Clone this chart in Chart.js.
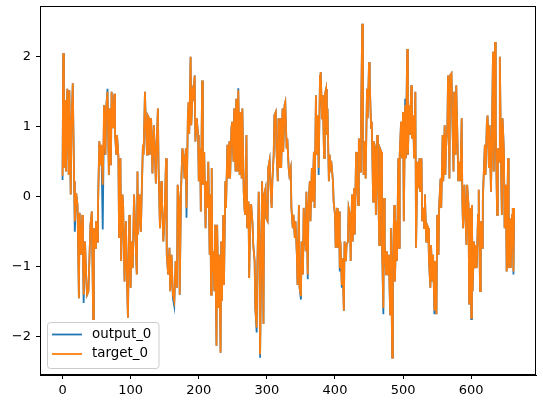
<!DOCTYPE html>
<html>
<head>
<meta charset="utf-8">
<script src="https://cdn.jsdelivr.net/npm/chart.js@4/dist/chart.umd.min.js"></script>
<style>
  html, body { margin: 0; padding: 0; background: #fff; }
  #chart { display: block; }
</style>
</head>
<body>
<canvas id="chart" width="543" height="407"></canvas>
<script>
// sample index (x)
const idx = [
  0,1,2,4,5,7,9,10,12,13,15,17,18,20,22,24,25,27,29,30,31,33,35,36,38,41,43,45,46,48,
  49,51,52,54,56,57,59,61,63,64,66,68,69,71,72,74,76,77,79,80,82,83,85,86,88,89,91,93,95,96,
  98,99,100,101,103,105,107,109,110,111,113,115,116,118,119,121,122,124,125,127,
  128,130,132,134,135,137,138,140,141,143,145,146,148,150,152,153,155,157,158,160,
  162,164,166,168,169,171,172,174,176,178,179,181,182,184,185,186,188,189,191,192,
  194,195,197,199,200,202,203,205,206,208,210,211,213,214,216,217,
  218,219,220,221,223,224,226,227,229,230,232,233,234,236,237,239,240,242,243,245,
  246,248,249,251,252,254,255,257,258,260,261,263,264,266,267,268,270,271,273,274,
  276,277,279,280,282,283,285,286,288,289,290,292,293,295,296,298,299,301,302,304,
  305,307,308,310,311,313,314,316,317,319,320,321,323,324,326,327,329,330,332,333,
  335,336,338,339,341,342,
  344,345,347,348,350,351,353,354,356,357,358,360,361,363,364,366,367,369,370,372,
  373,375,376,378,379,381,382,384,385,387,388,389,391,392,394,395,397,398,400,401,
  403,404,406,407,408,410,411,413,414,416,417,419,420,422,423,425,426,428,429,431,
  432,434,435,437,438,440,441,442,444,445,447,448,450,451,453,454,456,457,459,460,
  462,463,465,466,
  468,469,471,472,473,475,476,478,479,481,482,484,485,487,488,490,491,493,494,495,
  497,498,500,501,503,504,506,507,509,510,512,513,515,516,518,519,521,522,524,525,
  527,528,530,531,532,534,535,537,538,540,541,543,544,546,547,549,550,552,553,555,
  556,558,559,561,562,563,565,566,568,569,571,572,574,575,577,578,580,581,583,584,
  586,587,588,590,591,593,594,596,597,599,600,
  601,602,604,605,607,608,610,611,613,614,616,617,618,620,621,623,624,626,627,629,
  630,632,633,635,636,638,639,641,642,644,645,646,648,649,651,652,654,655,657,658,
  660,661,662,663
];

const target = [
  0.30,2.05,0.41,1.38,0.36,1.54,0.31,1.52,0.03,0.98,1.62,0.22,-0.35,0.05,-0.12,-1.45,-0.23,-0.83,-0.26,-0.88,-1.40,-0.64,-1.21,-1.40,-1.35,-0.40,-0.21,-1.75,-0.45,-0.73,
  -0.35,-0.64,-0.16,0.79,0.45,0.74,0.17,1.31,0.60,1.26,1.50,0.31,1.26,0.45,1.50,0.98,1.47,0.90,0.60,0.88,0.57,-0.59,0.55,-0.92,0.03,-0.14,-1.21,-0.35,-1.35,-1.73,
  -0.26,-0.59,-1.30,-0.64,-1.02,0.03,-0.59,-1.11,0.36,-0.54,0.03,-0.50,-0.05,0.74,0.60,1.50,1.12,0.60,1.16,1.12,
  0.60,1.12,0.33,1.02,0.79,0.19,0.69,1.26,0.41,-0.45,0.22,-0.07,-0.64,-0.21,0.55,-0.83,-1.11,-0.73,-1.35,-0.83,
  -1.40,-1.49,-0.92,-1.30,0.17,-0.07,-1.40,0.12,0.69,0.55,0.26,0.69,-0.16,1.16,1.35,0.90,2.00,1.02,1.50,1.45,
  1.73,0.79,1.12,0.88,0.22,0.69,-0.21,1.66,0.17,0.64,-0.45,0.22,-0.16,0.50,-0.83,0.03,
  -1.40,0.41,-1.07,-0.78,-1.35,-0.40,-2.13,-0.40,-1.59,-0.83,-2.23,-0.64,-1.49,-0.26,-1.26,0.22,-0.16,0.74,0.26,0.79,
  0.26,0.98,1.07,0.50,1.26,0.36,1.40,0.36,1.52,0.31,1.21,0.26,1.26,0.07,-0.16,-0.26,0.88,-0.45,-0.07,-1.16,
  -0.12,-0.12,-0.40,-0.69,-0.92,-1.59,-1.87,-1.02,0.07,-0.54,-2.25,-0.64,0.22,-1.82,0.03,0.12,-0.31,-0.35,0.41,0.52,
  0.22,-0.16,0.22,0.60,1.16,1.21,0.69,0.22,1.12,0.41,1.12,0.41,1.26,0.64,1.31,1.35,0.69,0.83,0.41,0.31,
  0.41,-0.16,-0.45,-0.26,-0.59,-0.35,
  -0.83,-1.26,-0.12,-1.30,-1.42,-0.64,-1.11,-0.16,-0.59,-0.78,0.07,-1.11,-0.16,0.22,-0.35,0.41,-0.07,0.64,-0.16,1.45,
  0.60,1.16,0.41,1.73,1.78,1.12,1.45,0.55,1.45,1.54,0.88,1.26,0.22,0.60,0.41,0.45,0.22,-0.07,-0.26,-0.73,
  -0.16,-0.73,-0.21,-1.02,-0.64,-1.26,-0.88,-1.63,-0.64,-0.92,-0.69,-0.64,-0.16,-0.26,-0.92,0.03,-0.64,0.12,-0.54,0.64,
  0.31,-0.12,0.83,0.36,0.88,2.47,1.02,0.31,0.79,0.26,1.54,1.12,1.92,1.64,0.98,1.07,-0.07,0.79,0.69,-0.26,
  0.88,0.41,-0.69,0.69,
  0.64,-0.64,-1.59,-0.02,-0.69,-1.11,-0.78,-1.11,-0.83,-1.68,-0.45,-2.30,-1.02,-0.12,-1.21,-0.35,-0.92,0.55,-0.73,0.60,
  1.07,0.55,1.21,-0.35,1.31,0.55,2.11,0.60,1.31,0.88,1.59,0.83,1.16,0.55,1.50,-0.73,0.50,0.12,0.55,0.07,
  0.55,-0.35,-0.16,-0.45,0.03,-0.64,-0.40,-0.45,-0.92,-1.30,-0.69,-1.21,-0.83,-1.63,-0.92,-1.68,-0.26,-0.83,-0.12,0.26,
  -0.16,0.88,0.22,1.02,0.31,0.69,1.02,1.73,0.26,1.73,1.76,1.26,0.36,1.50,0.60,1.59,0.74,0.22,0.50,0.22,
  1.12,-0.07,-0.45,0.17,-0.16,-0.69,0.17,-0.12,-1.54,-0.16,-1.73,
  -0.12,-1.35,-0.64,-1.02,-0.69,-1.02,-0.26,0.10,-1.35,-0.35,-0.73,-0.07,0.22,0.74,0.31,1.07,1.16,0.41,1.02,0.07,
  0.64,2.07,0.36,2.21,0.98,-0.26,0.69,0.50,2.00,0.31,-0.26,1.12,0.64,-0.45,0.17,-1.07,0.55,-1.02,-0.31,-1.02,
  -0.26,-0.16,-1.07,-0.16
];

const output = [
  0.24,2.05,0.41,1.38,0.36,1.54,0.31,1.52,0.03,0.98,1.62,0.22,-0.50,0.05,-0.12,-1.45,-0.23,-0.83,-0.26,-0.88,-1.52,-0.64,-1.21,-1.40,-1.35,-0.40,-0.21,-1.75,-0.45,-0.73,
  -0.35,-0.64,-0.16,0.79,0.45,0.74,-0.47,1.31,0.60,1.26,1.54,0.31,1.26,0.45,1.50,0.98,1.47,0.90,0.60,0.88,0.57,-0.59,0.55,-0.92,0.03,-0.14,-1.21,-0.35,-1.35,-1.73,
  -0.26,-0.59,-1.30,-0.64,-1.02,0.03,-0.59,-1.11,0.36,-0.54,0.03,-0.50,-0.05,0.74,0.60,1.50,1.12,0.60,1.16,1.12,
  0.60,1.12,0.33,1.02,0.79,0.19,0.69,1.26,0.41,-0.45,0.22,-0.07,-0.64,-0.21,0.55,-0.83,-1.11,-0.73,-1.35,-0.83,
  -1.45,-1.56,-0.92,-1.30,0.17,-0.07,-1.40,0.12,0.69,0.55,0.26,0.69,-0.30,1.16,1.35,0.90,2.00,1.02,1.50,1.45,
  1.73,0.79,1.12,0.88,0.22,0.69,-0.21,1.66,0.17,0.64,-0.45,0.22,-0.16,0.50,-0.83,0.03,
  -1.40,0.41,-1.07,-0.78,-1.35,-0.40,-2.13,-0.40,-1.59,-0.83,-2.23,-0.64,-1.49,-0.26,-1.26,0.22,-0.16,0.74,0.26,0.79,
  0.26,0.98,1.07,0.50,1.26,0.36,1.40,0.36,1.55,0.31,1.21,0.26,1.26,0.07,-0.16,-0.26,0.88,-0.45,-0.07,-1.16,
  -0.12,-0.12,-0.40,-0.69,-0.92,-1.59,-1.94,-1.02,0.07,-0.54,-2.30,-0.64,0.22,-1.82,0.03,0.12,-0.31,-0.35,0.41,0.52,
  0.22,-0.16,0.22,0.60,1.16,1.21,0.69,0.22,1.12,0.41,1.12,0.41,1.26,0.64,1.31,1.35,0.69,0.83,0.41,0.31,
  0.41,-0.16,-0.45,-0.26,-0.59,-0.35,
  -0.83,-1.26,-0.12,-1.30,-1.47,-0.64,-1.11,-0.16,-0.59,-0.78,0.07,-1.18,-0.16,0.22,-0.35,0.41,-0.07,0.64,-0.16,1.45,
  0.60,1.16,0.31,1.73,1.78,1.12,1.45,0.55,1.45,1.54,0.88,1.26,0.22,0.60,0.41,0.45,0.22,-0.07,-0.26,-0.73,
  -0.16,-0.73,-0.21,-1.07,-0.64,-1.30,-0.88,-1.63,-0.64,-0.92,-0.69,-0.64,-0.16,-0.26,-0.92,0.03,-0.64,0.12,-0.54,0.64,
  0.31,-0.12,0.83,0.36,0.88,2.47,1.02,0.31,0.79,0.26,1.54,1.12,1.92,1.64,0.98,1.07,-0.07,0.79,0.69,-0.26,
  0.88,0.41,-0.69,0.69,
  0.64,-0.64,-1.68,-0.02,-0.69,-1.11,-0.78,-1.11,-0.83,-1.68,-0.45,-2.30,-1.02,-0.12,-1.21,-0.35,-0.92,0.55,-0.73,0.60,
  1.07,0.55,1.21,-0.35,1.40,0.55,2.11,0.60,1.31,0.88,1.59,0.83,1.16,0.55,1.50,-0.73,0.50,0.12,0.55,0.07,
  0.55,-0.35,-0.16,-0.45,0.03,-0.64,-0.40,-0.45,-0.92,-1.30,-0.69,-1.21,-0.83,-1.68,-0.92,-1.68,-0.26,-0.83,-0.12,0.26,
  -0.16,0.88,0.22,1.02,0.31,0.69,1.02,1.73,0.26,1.73,1.76,1.26,0.36,1.50,0.60,1.59,0.74,0.22,0.50,0.22,
  1.12,-0.07,-0.45,0.17,-0.16,-0.69,0.17,-0.12,-1.54,-0.16,-1.75,
  -0.12,-1.35,-0.64,-1.02,-0.69,-1.02,-0.26,0.10,-1.35,-0.35,-0.73,-0.07,0.22,0.74,0.31,1.07,1.16,0.41,1.02,0.07,
  0.64,2.07,0.36,2.21,0.98,-0.26,0.69,0.50,2.00,0.31,-0.26,1.12,0.64,-0.45,0.17,-1.07,0.55,-1.02,-0.31,-1.02,
  -0.26,-0.16,-1.11,-0.16
];

const xTicks = [0, 100, 200, 300, 400, 500, 600];
const yTicks = [-2, -1, 0, 1, 2];
const seriesNames = ['output_0', 'target_0'];
const seriesColors = ['#1f77b4', '#ff7f0e'];

const FONT = 'DejaVu Sans';
const FONT_SIZE = 13;

// box around the plot + matplotlib style legend in the lower left
const framePlugin = {
    id: 'frame',
    afterDraw(chart) {
        const { ctx, chartArea: a } = chart;
        ctx.save();
        ctx.strokeStyle = '#000';
        ctx.lineWidth = 1;
        ctx.strokeRect(Math.round(a.left) + 0.5, Math.round(a.top) + 0.5,
                       Math.round(a.right - a.left) - 1, Math.round(a.bottom - a.top) - 1);

        // legend
        const bx = 47.5, by = 322.5, bw = 111.5, bh = 46, r = 3;
        ctx.beginPath();
        ctx.moveTo(bx + r, by);
        ctx.arcTo(bx + bw, by, bx + bw, by + bh, r);
        ctx.arcTo(bx + bw, by + bh, bx, by + bh, r);
        ctx.arcTo(bx, by + bh, bx, by, r);
        ctx.arcTo(bx, by, bx + bw, by, r);
        ctx.closePath();
        ctx.fillStyle = 'rgba(255,255,255,0.8)';
        ctx.fill();
        ctx.strokeStyle = '#cccccc';
        ctx.stroke();

        ctx.font = '13.4px "' + FONT + '"';
        ctx.textBaseline = 'middle';
        ctx.textAlign = 'left';
        const rows = [334.5, 354];
        seriesNames.forEach((name, i) => {
            ctx.strokeStyle = seriesColors[i];
            ctx.lineWidth = 1.8;
            ctx.beginPath();
            ctx.moveTo(52, rows[i]);
            ctx.lineTo(82, rows[i]);
            ctx.stroke();
            ctx.fillStyle = '#000';
            ctx.fillText(name, 92, rows[i]);
        });
        ctx.restore();
    }
};

function noPad(scale) {
    scale.paddingTop = 0;
    scale.paddingBottom = 0;
    scale.paddingLeft = 0;
    scale.paddingRight = 0;
}

const ctx = document.getElementById('chart').getContext('2d');

new Chart(ctx, {
    type: 'line',
    data: {
        datasets: [
            {
                label: seriesNames[0],
                data: idx.map((x, k) => ({ x: x, y: output[k] })),
                borderColor: seriesColors[0],
                borderWidth: 1.8,
                pointRadius: 0,
                tension: 0,
                order: 2
            },
            {
                label: seriesNames[1],
                data: idx.map((x, k) => ({ x: x, y: target[k] })),
                borderColor: seriesColors[1],
                borderWidth: 1.8,
                pointRadius: 0,
                tension: 0,
                order: 1
            }
        ]
    },
    options: {
        responsive: false,
        animation: false,
        devicePixelRatio: 1,
        layout: { padding: { top: 6, right: 7, left: 0, bottom: 0 } },
        plugins: {
            legend: { display: false },
            tooltip: { enabled: false }
        },
        scales: {
            x: {
                type: 'linear',
                min: -33.1,
                max: 695.1,
                afterBuildTicks: scale => { scale.ticks = xTicks.map(v => ({ value: v })); },
                afterFit: scale => { scale.height = 32; noPad(scale); },
                grid: { drawOnChartArea: false, drawTicks: true, tickLength: 4, tickColor: '#000' },
                border: { display: true, color: '#000', width: 1 },
                ticks: {
                    color: '#000',
                    padding: 4,
                    maxRotation: 0,
                    font: { family: FONT, size: FONT_SIZE }
                }
            },
            y: {
                type: 'linear',
                min: -2.547,
                max: 2.724,
                afterBuildTicks: scale => { scale.ticks = yTicks.map(v => ({ value: v })); },
                afterFit: scale => { scale.width = 40; noPad(scale); },
                grid: { drawOnChartArea: false, drawTicks: true, tickLength: 4, tickColor: '#000' },
                border: { display: true, color: '#000', width: 1 },
                ticks: {
                    color: '#000',
                    padding: 5,
                    font: { family: FONT, size: FONT_SIZE },
                    callback: v => String(v).replace('-', '\u2212')
                }
            }
        }
    },
    plugins: [framePlugin]
});
</script>
</body>
</html>
